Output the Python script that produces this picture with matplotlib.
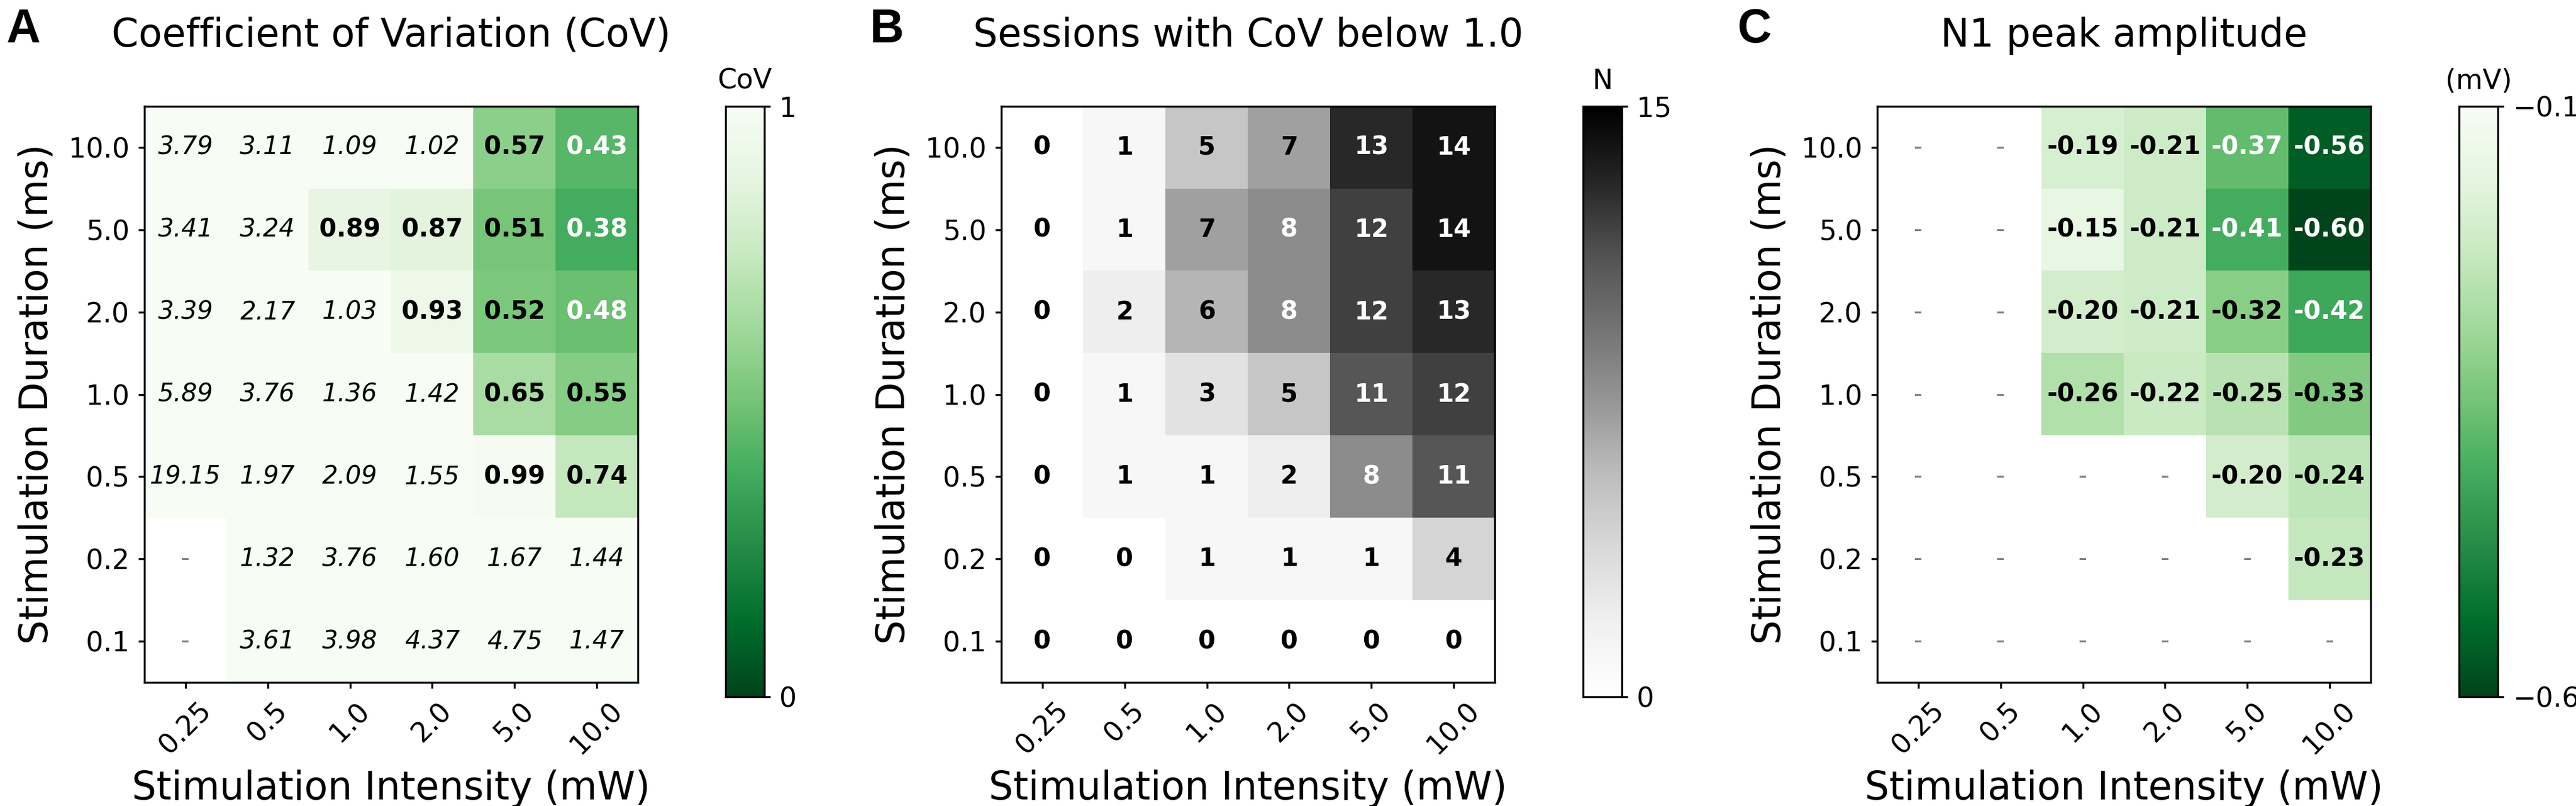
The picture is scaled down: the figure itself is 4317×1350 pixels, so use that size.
import numpy as np
import matplotlib
matplotlib.use("Agg")
import matplotlib.pyplot as plt

nan = np.nan

intensity_labels = ["0.25", "0.5", "1.0", "2.0", "5.0", "10.0"]
duration_labels = ["10.0", "5.0", "2.0", "1.0", "0.5", "0.2", "0.1"]

# rows: duration top -> bottom, cols: intensity
cov = np.array([
    [3.79, 3.11, 1.09, 1.02, 0.57, 0.43],
    [3.41, 3.24, 0.89, 0.87, 0.51, 0.38],
    [3.39, 2.17, 1.03, 0.93, 0.52, 0.48],
    [5.89, 3.76, 1.36, 1.42, 0.65, 0.55],
    [19.15, 1.97, 2.09, 1.55, 0.99, 0.74],
    [nan, 1.32, 3.76, 1.60, 1.67, 1.44],
    [nan, 3.61, 3.98, 4.37, 4.75, 1.47],
])

n_sessions = np.array([
    [0, 1, 5, 7, 13, 14],
    [0, 1, 7, 8, 12, 14],
    [0, 2, 6, 8, 12, 13],
    [0, 1, 3, 5, 11, 12],
    [0, 1, 1, 2, 8, 11],
    [0, 0, 1, 1, 1, 4],
    [0, 0, 0, 0, 0, 0],
])

n1_amp = np.array([
    [nan, nan, -0.19, -0.21, -0.37, -0.56],
    [nan, nan, -0.15, -0.21, -0.41, -0.60],
    [nan, nan, -0.20, -0.21, -0.32, -0.42],
    [nan, nan, -0.26, -0.22, -0.25, -0.33],
    [nan, nan, nan, nan, -0.20, -0.24],
    [nan, nan, nan, nan, nan, -0.23],
    [nan, nan, nan, nan, nan, nan],
])

W, H = 4317, 1350
fig = plt.figure(figsize=(W / 300, H / 300), dpi=300)


def box(x0, x1, y0, y1):
    return [x0 / W, 1 - y1 / H, (x1 - x0) / W, (y1 - y0) / H]


def setup_axes(ax, title):
    ax.set_xticks(range(len(intensity_labels)))
    ax.set_xticklabels(intensity_labels, rotation=45, fontsize=11)
    ax.set_yticks(range(len(duration_labels)))
    ax.set_yticklabels(duration_labels, fontsize=11)
    ax.tick_params(length=2.5, width=0.8)
    ax.set_xlabel("Stimulation Intensity (mW)", fontsize=15.5, labelpad=4)
    ax.set_ylabel("Stimulation Duration (ms)", fontsize=15.5, labelpad=5)
    ax.set_title(title, fontsize=15.5, pad=24)


def add_cbar(im, cax, ticks, ticklabels, label):
    cb = fig.colorbar(im, cax=cax, ticks=ticks)
    cb.ax.set_yticklabels(ticklabels, fontsize=11)
    cb.ax.tick_params(length=2.5, width=0.8)
    cb.outline.set_linewidth(0.8)
    cb.ax.set_title(label, fontsize=11, pad=7)
    return cb


ys = (178, 1143)
cy = (178, 1167)

# Panel A
axA = fig.add_axes(box(242, 1069, *ys))
imA = axA.imshow(cov, cmap="Greens_r", vmin=0, vmax=1, aspect="auto")
for i in range(cov.shape[0]):
    for j in range(cov.shape[1]):
        v = cov[i, j]
        if np.isnan(v):
            axA.text(j, i, "-", ha="center", va="center", color="gray", fontsize=10)
        elif v < 1:
            axA.text(j, i, f"{v:.2f}", ha="center", va="center", fontsize=10,
                     fontweight="bold", color="white" if v < 0.5 else "black")
        else:
            axA.text(j, i, f"{v:.2f}", ha="center", va="center", fontsize=10,
                     fontstyle="italic", color="black")
setup_axes(axA, "Coefficient of Variation (CoV)")
add_cbar(imA, fig.add_axes(box(1216, 1281, *cy)), [0, 1], ["0", "1"], "CoV")

# Panel B
axB = fig.add_axes(box(1678, 2505, *ys))
imB = axB.imshow(n_sessions, cmap="Greys", vmin=0, vmax=15, aspect="auto")
for i in range(n_sessions.shape[0]):
    for j in range(n_sessions.shape[1]):
        v = n_sessions[i, j]
        axB.text(j, i, str(v), ha="center", va="center", fontsize=10,
                 fontweight="bold", color="white" if v >= 8 else "black")
setup_axes(axB, "Sessions with CoV below 1.0")
add_cbar(imB, fig.add_axes(box(2653, 2718, *cy)), [0, 15], ["0", "15"], "N")

# Panel C
axC = fig.add_axes(box(3146, 3973, *ys))
imC = axC.imshow(n1_amp, cmap="Greens_r", vmin=-0.6, vmax=-0.1, aspect="auto")
for i in range(n1_amp.shape[0]):
    for j in range(n1_amp.shape[1]):
        v = n1_amp[i, j]
        if np.isnan(v):
            axC.text(j, i, "-", ha="center", va="center", color="gray", fontsize=10)
        else:
            axC.text(j, i, f"{v:.2f}", ha="center", va="center", fontsize=10,
                     fontweight="bold", color="white" if v <= -0.35 else "black")
setup_axes(axC, "N1 peak amplitude")
add_cbar(imC, fig.add_axes(box(4121, 4186, *cy)), [-0.6, -0.1],
         ["\u22120.6", "\u22120.1"], "(mV)")

for letter, x in [("A", 10), ("B", 1458), ("C", 2912)]:
    fig.text(x / W, 1 - 71 / H, letter, fontsize=19, fontweight="bold",
             family="Liberation Sans", va="baseline", ha="left")

fig.savefig("out.png", dpi=300)
